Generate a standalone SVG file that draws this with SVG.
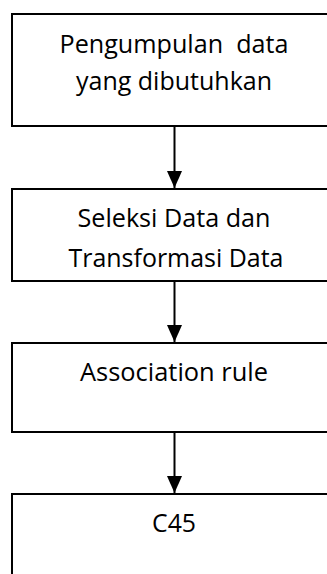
<svg xmlns="http://www.w3.org/2000/svg" width="327" height="574" viewBox="0 0 327 574">
  <style>
    .box { fill: #ffffff; stroke: #000000; stroke-width: 2; }
    .lbl { font-family: "Open Sans", "Noto Sans", sans-serif; font-size: 25px; fill: #000000; text-anchor: middle; }
    .conn { stroke: #000000; stroke-width: 2; fill: none; }
  </style>
  <defs>
    <marker id="arr" viewBox="0 0 17 15" refX="17" refY="7.5" markerWidth="17" markerHeight="15" markerUnits="userSpaceOnUse" orient="auto">
      <path d="M0,0 L17,7.5 L0,15 z" fill="#000000"/>
    </marker>
  </defs>
  <rect width="327" height="574" fill="#ffffff"/>
  <g id="node1">
    <rect class="box" x="12" y="14" width="330" height="112"/>
    <text class="lbl" x="174" y="53" textLength="229" lengthAdjust="spacingAndGlyphs" xml:space="preserve">Pengumpulan  data</text>
    <text class="lbl" x="174" y="90" textLength="196" lengthAdjust="spacingAndGlyphs">yang dibutuhkan</text>
  </g>
  <g id="node2">
    <rect class="box" x="12" y="189" width="330" height="92"/>
    <text class="lbl" x="174" y="227" textLength="193" lengthAdjust="spacingAndGlyphs">Seleksi Data dan</text>
    <text class="lbl" x="176" y="267" textLength="215" lengthAdjust="spacingAndGlyphs">Transformasi Data</text>
  </g>
  <g id="node3">
    <rect class="box" x="12" y="343" width="330" height="89"/>
    <text class="lbl" x="174" y="381" textLength="188" lengthAdjust="spacingAndGlyphs">Association rule</text>
  </g>
  <g id="node4">
    <rect class="box" x="12" y="494" width="330" height="100"/>
    <text class="lbl" x="174" y="532" textLength="44" lengthAdjust="spacingAndGlyphs">C45</text>
  </g>
  <g id="connectors">
    <line class="conn" x1="174.5" y1="126" x2="174.5" y2="188" marker-end="url(#arr)"/>
    <line class="conn" x1="174.5" y1="281" x2="174.5" y2="342" marker-end="url(#arr)"/>
    <line class="conn" x1="174.5" y1="432" x2="174.5" y2="493" marker-end="url(#arr)"/>
  </g>
</svg>
